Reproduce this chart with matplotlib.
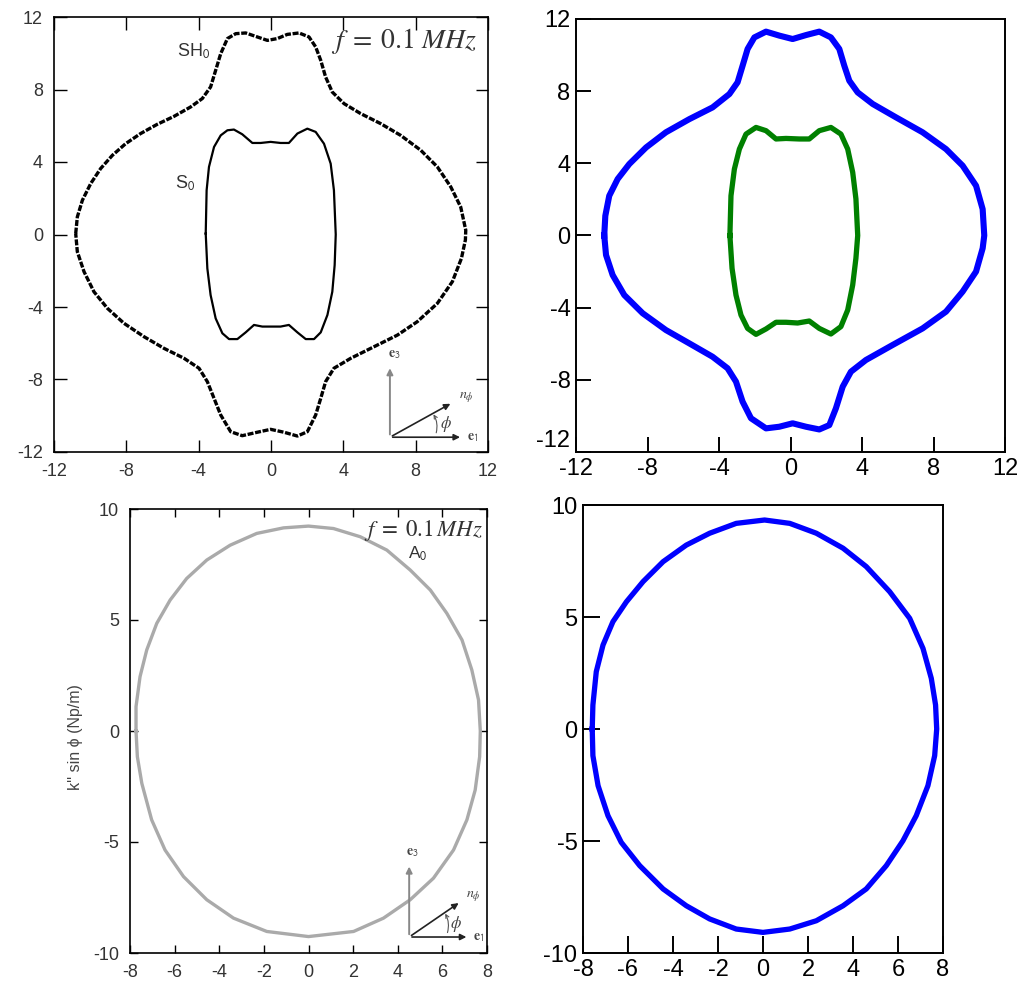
import matplotlib
matplotlib.use("Agg")
import matplotlib.pyplot as plt

plt.rcParams['font.family'] = ['Liberation Sans', 'DejaVu Sans']
plt.rcParams['mathtext.fontset'] = 'stix'
plt.rcParams['axes.unicode_minus'] = False

# ---- panel (a): SH0 / S0 curves, f = 0.1 MHz (black) ----
sh0_x = [-10.80, -10.71, -10.43, -9.97, -9.42, -8.77, -8.04, -7.21, -6.29, -5.36, -4.44, -3.80,
         -3.34, -3.06, -2.78, -2.41, -1.95, -1.40, -0.76, -0.20, 0.35, 0.90, 1.55, 2.10, 2.47,
         2.75, 3.02, 3.39, 4.04, 4.96, 6.06, 7.17, 8.28, 9.20, 9.94, 10.49, 10.77, 10.75,
         10.53, 10.03, 9.20, 8.09, 6.99, 5.70, 4.41, 3.48, 3.02, 2.75, 2.47, 2.01, 1.46, 0.72,
         -0.02, -0.76, -1.59, -2.23, -2.78, -3.15, -3.52, -3.98, -4.81, -5.92, -7.02, -8.13,
         -9.05, -9.79, -10.34, -10.71, -10.80]
sh0_y = [0.05, 0.97, 1.89, 2.81, 3.64, 4.37, 5.01, 5.57, 6.08, 6.52, 7.04, 7.50,
         8.14, 9.06, 9.98, 10.81, 11.08, 11.12, 10.90, 10.71, 10.81, 11.04, 11.12, 10.90, 10.35,
         9.61, 8.69, 7.86, 7.22, 6.67, 6.12, 5.47, 4.65, 3.73, 2.63, 1.52, 0.24, -0.30,
         -1.32, -2.60, -3.80, -4.81, -5.55, -6.19, -6.83, -7.38, -8.12, -9.04, -9.96, -10.88, -11.12, -10.91,
         -10.75, -10.91, -11.10, -10.88, -9.96, -9.04, -8.12, -7.38, -6.83, -6.28, -5.64, -4.90,
         -4.07, -3.16, -2.05, -0.95, 0.05]

s0_x = [-3.61, -3.56, -3.43, -3.15, -2.78, -2.41, -2.05, -1.59, -1.03, -0.57, -0.02, 0.53, 0.99,
        1.46, 2.01, 2.47, 2.93, 3.30, 3.48, 3.58, 3.52, 3.39, 3.12, 2.75, 2.38, 1.92, 1.46, 0.99,
        0.53, -0.02, -0.48, -0.94, -1.40, -1.86, -2.32, -2.69, -3.06, -3.34, -3.52, -3.61]
s0_y = [0.05, 2.44, 3.73, 4.83, 5.47, 5.75, 5.79, 5.53, 5.05, 5.05, 5.11, 5.05, 5.05,
        5.57, 5.84, 5.66, 5.01, 3.91, 2.44, 0.0, -1.69, -3.16, -4.44, -5.40, -5.77, -5.77, -5.40, -4.99,
        -5.08, -5.08, -5.08, -4.99, -5.40, -5.77, -5.77, -5.45, -4.63, -3.34, -1.87, 0.05]

# ---- panel (b): SH0 (blue) / S0 (green) ----
sh0b_x = [-10.42, -10.36, -10.14, -9.67, -9.02, -8.08, -6.97, -5.66, -4.36, -3.42, -2.96, -2.68,
          -2.40, -2.02, -1.37, -0.63, 0.12, 0.87, 1.61, 2.26, 2.73, 3.01, 3.29, 3.76, 4.60, 5.90,
          7.39, 8.70, 9.63, 10.38, 10.75, 10.84, 10.75, 10.38, 9.63, 8.70, 7.39, 5.71, 4.22, 3.38,
          2.92, 2.54, 2.17, 1.61, 0.87, 0.12, -0.63, -1.37, -2.21, -2.68, -3.05, -3.52, -4.36, -5.66,
          -6.97, -8.27, -9.30, -9.95, -10.32, -10.42]
sh0b_y = [0.0, 1.09, 2.20, 3.13, 3.96, 4.88, 5.72, 6.45, 7.10, 7.84, 8.49, 9.41,
          10.34, 10.98, 11.30, 11.08, 10.89, 11.11, 11.30, 10.98, 10.34, 9.41, 8.58, 7.93, 7.29, 6.55,
          5.72, 4.79, 3.87, 2.76, 1.46, 0.0, -0.71, -2.00, -3.11, -4.22, -5.15, -6.07, -6.90, -7.55,
          -8.38, -9.58, -10.51, -10.75, -10.60, -10.41, -10.60, -10.69, -10.13, -9.21, -8.10, -7.36, -6.72, -5.98,
          -5.24, -4.31, -3.30, -2.19, -1.08, 0.0]

s0b_x = [-3.39, -3.33, -3.14, -2.86, -2.49, -1.93, -1.37, -0.81, -0.25, 0.49, 1.05, 1.61, 2.26,
         2.82, 3.20, 3.48, 3.66, 3.76, 3.66, 3.48, 3.20, 2.82, 2.26, 1.61, 1.05, 0.40, -0.25,
         -0.81, -1.37, -1.93, -2.40, -2.77, -3.05, -3.27, -3.39]
s0b_y = [0.0, 2.20, 3.68, 4.79, 5.62, 5.99, 5.81, 5.35, 5.38, 5.35, 5.35, 5.81, 5.99,
         5.62, 4.79, 3.50, 2.03, 0.0, -1.26, -2.74, -4.13, -5.05, -5.46, -5.15, -4.74, -4.85, -4.81,
         -4.81, -5.18, -5.48, -5.15, -4.41, -3.30, -1.82, 0.0]

# ---- panel (c): A0 curve (grey) ----
a0_x = [-7.73, -7.73, -7.55, -7.25, -6.80, -6.20, -5.46, -4.56, -3.51, -2.32, -1.12, 0.0, 1.12,
        2.32, 3.51, 4.56, 5.46, 6.20, 6.88, 7.32, 7.62, 7.70, 7.67, 7.47, 7.10, 6.50, 5.60,
        4.56, 3.36, 2.02, 0.0, -1.87, -3.36, -4.56, -5.60, -6.43, -7.03, -7.47, -7.67, -7.73]
a0_y = [0.0, 1.10, 2.45, 3.65, 4.85, 5.90, 6.87, 7.70, 8.37, 8.90, 9.15, 9.23, 9.12,
        8.75, 8.15, 7.25, 6.35, 5.30, 4.10, 2.75, 1.40, 0.0, -1.16, -2.66, -4.00, -5.36, -6.63,
        -7.60, -8.43, -9.03, -9.26, -9.03, -8.43, -7.60, -6.56, -5.36, -4.00, -2.36, -1.16, 0.0]

# ---- panel (d): A0 curve (blue) ----
a0b_x = [-7.59, -7.56, -7.41, -7.11, -6.67, -6.07, -5.33, -4.44, -3.41, -2.37, -1.19, 0.07, 1.19,
         2.37, 3.56, 4.59, 5.63, 6.52, 7.11, 7.48, 7.67, 7.72, 7.63, 7.33, 6.81, 6.22, 5.48,
         4.59, 3.56, 2.37, 1.19, 0.0, -1.19, -2.37, -3.41, -4.44, -5.48, -6.30, -6.89, -7.33,
         -7.56, -7.59]
a0b_y = [0.0, 1.07, 2.56, 3.75, 4.79, 5.68, 6.58, 7.47, 8.21, 8.74, 9.18, 9.33, 9.18,
         8.74, 8.07, 7.25, 6.13, 4.94, 3.60, 2.26, 1.07, 0.0, -1.19, -2.53, -3.87, -4.99, -6.10,
         -7.14, -7.89, -8.56, -8.93, -9.08, -8.93, -8.48, -7.89, -7.14, -6.10, -5.06, -3.87, -2.53,
         -1.19, 0.0]

ticks12 = [-12, -8, -4, 0, 4, 8, 12]
ticks8 = [-8, -6, -4, -2, 0, 2, 4, 6, 8]
ticks10 = [-10, -5, 0, 5, 10]

W, H = 1023, 992
fig = plt.figure(figsize=(W / 100, H / 100), dpi=100, facecolor='white')


def px_axes(l, t, r, b):
    return fig.add_axes([l / W, 1 - b / H, (r - l) / W, (b - t) / H])


def coord_inset(ax, ox, oy, col='#222222'):
    # small e1 / e3 / n_phi sketch, axes-fraction coords
    kw = dict(xycoords='axes fraction', textcoords='axes fraction')
    ax.annotate('', xy=(ox, oy + 0.165), xytext=(ox, oy),
                arrowprops=dict(arrowstyle='-|>', color='#888888', lw=1.4, mutation_scale=9), **kw)
    ax.annotate('', xy=(ox + 0.168, oy), xytext=(ox, oy),
                arrowprops=dict(arrowstyle='-|>', color=col, lw=1.2, mutation_scale=9), **kw)
    ax.annotate('', xy=(ox + 0.145, oy + 0.08), xytext=(ox, oy),
                arrowprops=dict(arrowstyle='-|>', color=col, lw=1.2, mutation_scale=9), **kw)
    ax.annotate('', xy=(ox + 0.097, oy + 0.058), xytext=(ox + 0.105, oy + 0.004),
                arrowprops=dict(arrowstyle='->', color='#555555', lw=0.8, mutation_scale=6,
                                connectionstyle='arc3,rad=0.25'), **kw)
    ax.text(ox + 0.01, oy + 0.175, r'$\mathbf{e}_{\mathsf{3}}$', transform=ax.transAxes,
            fontsize=10, color='#444444', ha='center', va='bottom')
    ax.text(ox + 0.178, oy, r'$\mathbf{e}_{\mathsf{1}}$', transform=ax.transAxes,
            fontsize=10, color='#444444', ha='left', va='center')
    ax.text(ox + 0.16, oy + 0.09, r'$n_{\phi}$', transform=ax.transAxes,
            fontsize=10, color='#444444', ha='left', va='center')
    ax.text(ox + 0.115, oy + 0.03, r'$\phi$', transform=ax.transAxes,
            fontsize=12, color='#444444', ha='left', va='center')


# panel (a)
ax1 = px_axes(54, 17, 488, 452)
ax1.plot(sh0_x, sh0_y, color='black', lw=2.4, linestyle=(0, (1.8, 0.5)))
ax1.plot(s0_x, s0_y, color='black', lw=1.6, solid_joinstyle='round')
ax1.set_xlim(-12, 12)
ax1.set_ylim(-12, 12)
ax1.set_xticks(ticks12)
ax1.set_yticks(ticks12)
ax1.tick_params(direction='in', top=True, right=True, length=9, width=1.0,
                labelsize=13, labelcolor='#333333', pad=8)
for s in ax1.spines.values():
    s.set_linewidth(1.2)
ax1.text(-4.3, 10.1, r'SH$_{\mathsf{0}}$', fontsize=13, color='#333333', ha='center', va='center')
ax1.text(-4.75, 2.8, r'S$_{\mathsf{0}}$', fontsize=13, color='#333333', ha='center', va='center')
ax1.text(11.4, 10.65, r'$f\;=\;0.1\;MHz$', fontsize=20, color='#333333', ha='right', va='center')
coord_inset(ax1, 0.774, 0.034)

# panel (b)
ax2 = px_axes(576, 19, 1005, 452)
ax2.plot(sh0b_x, sh0b_y, color='#0000ff', lw=4.4, solid_joinstyle='round')
ax2.plot(s0b_x, s0b_y, color='#008000', lw=3.8, solid_joinstyle='round')
ax2.set_xlim(-12, 12)
ax2.set_ylim(-12, 12)
ax2.set_xticks(ticks12, labels=[str(t) for t in ticks12])
ax2.set_yticks(ticks12, labels=[str(t) for t in ticks12])
ax2.get_yticklabels()[0].set_verticalalignment('bottom')
ax2.tick_params(direction='in', length=11, width=1.4, labelsize=17, pad=4)
for s in ax2.spines.values():
    s.set_linewidth(1.4)

# panel (c)
ax3 = px_axes(130, 509, 487, 953)
ax3.plot(a0_x, a0_y, color='#aaaaaa', lw=2.4, solid_joinstyle='round')
ax3.set_xlim(-8, 8)
ax3.set_ylim(-10, 10)
ax3.set_xticks(ticks8)
ax3.set_yticks(ticks10)
ax3.tick_params(direction='in', top=True, right=True, length=6, width=1.0,
                labelsize=13, labelcolor='#333333', pad=8)
for s in ax3.spines.values():
    s.set_linewidth(1.2)
ax3.text(-0.154, 0.486, "k'' sin \u03d5 (Np/m)", transform=ax3.transAxes, rotation=90,
         fontsize=11.5, color='#444444', ha='center', va='center')
ax3.text(7.8, 9.05, r'$f\;=\;0.1\,MHz$', fontsize=16.5, color='#333333', ha='right', va='center')
ax3.text(4.45, 8.0, r'A$_{\mathsf{0}}$', fontsize=12.5, color='#333333', ha='left', va='center')
coord_inset(ax3, 0.782, 0.036)

# panel (d)
ax4 = px_axes(583, 505, 943, 953)
ax4.plot(a0b_x, a0b_y, color='#0000ff', lw=3.8, solid_joinstyle='round')
ax4.set_xlim(-8, 8)
ax4.set_ylim(-10, 10)
ax4.set_xticks(ticks8)
ax4.set_yticks(ticks10)
ax4.tick_params(direction='in', length=12, width=1.4, labelsize=17, pad=4)
for s in ax4.spines.values():
    s.set_linewidth(1.4)

fig.savefig('out.png', dpi=100, facecolor='white')
